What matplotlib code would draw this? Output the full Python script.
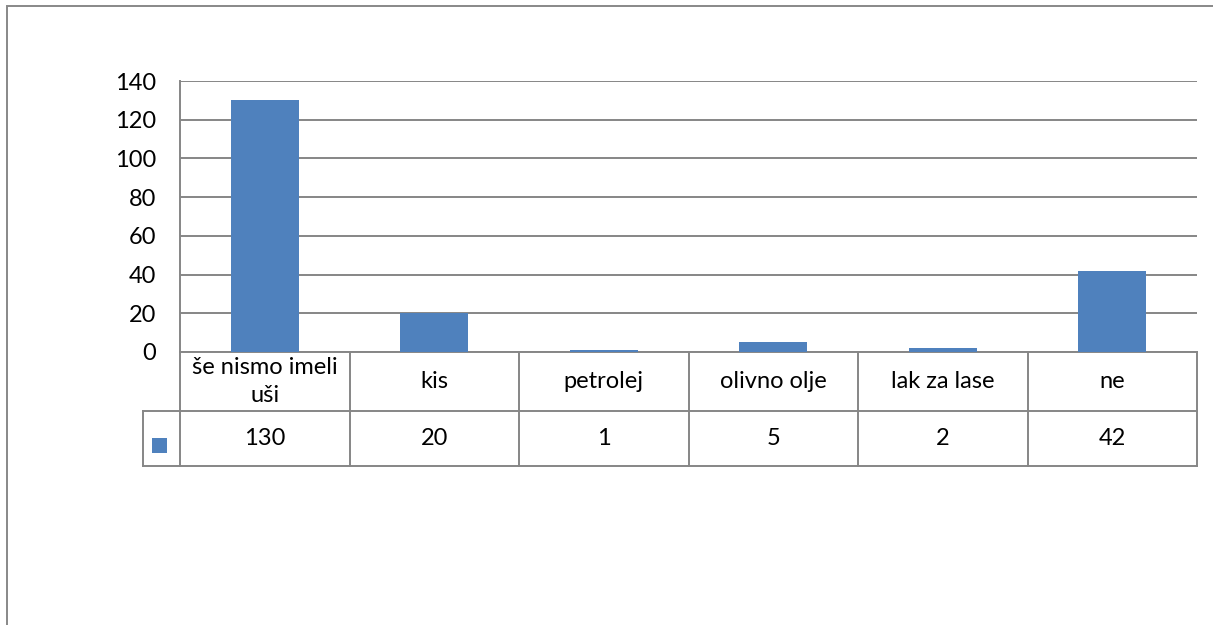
import matplotlib.pyplot as plt
from matplotlib.patches import Rectangle
from matplotlib.lines import Line2D
import matplotlib.transforms as mtransforms

categories = ["še nismo imeli\nuši", "kis", "petrolej", "olivno olje", "lak za lase", "ne"]
values = [130, 20, 1, 5, 2, 42]
yticks = [0, 20, 40, 60, 80, 100, 120, 140]

W, H = 1213, 625
bar_color = "#4F81BD"
line_color = "#868686"
fs = 17

plt.rcParams["font.family"] = ["Lato", "DejaVu Sans"]

fig = plt.figure(figsize=(W / 100, H / 100), dpi=100)
ax = fig.add_axes([180 / W, 1 - 352 / H, (1197 - 180) / W, (352 - 81) / H])

x = range(len(categories))
ax.bar(x, values, width=0.4, color=bar_color, zorder=3)
ax.set_xlim(-0.5, len(categories) - 0.5)
ax.set_ylim(0, 140)
ax.set_yticks(yticks)
ax.set_yticklabels([str(t) for t in yticks], fontsize=fs)
ax.tick_params(axis="y", length=0, pad=17)
ax.set_xticks([])
ax.yaxis.grid(True, color=line_color, linewidth=1.4, zorder=0)
for side in ["top", "right", "bottom"]:
    ax.spines[side].set_visible(False)
ax.spines["left"].set_color(line_color)
ax.spines["left"].set_linewidth(1.4)

# data table under the axes
trans = mtransforms.blended_transform_factory(ax.transData, ax.transAxes)
ah = 352 - 81
r0, r1, r2 = 0, -59 / ah, -114 / ah
n = len(categories)
lw = 1.4


def hline(x0, x1, y):
    ax.add_line(Line2D([x0, x1], [y, y], transform=trans, color=line_color, lw=lw, clip_on=False))


def vline(xx, y0, y1):
    ax.add_line(Line2D([xx, xx], [y0, y1], transform=trans, color=line_color, lw=lw, clip_on=False))


hline(-0.5, n - 0.5, r0)
hline(-0.5, n - 0.5, r1)
hline(-0.5, n - 0.5, r2)
for i in range(n + 1):
    vline(i - 0.5, r0, r2)

# legend key column
key_left = (143 - 180) / (1197 - 180) * n - 0.5
hline(key_left, -0.5, r1)
hline(key_left, -0.5, r2)
vline(key_left, r1, r2)
fig.add_artist(Rectangle((152 / W, 1 - 453 / H), 15 / W, 15 / H, facecolor=bar_color,
                         edgecolor="none", transform=fig.transFigure))

line_gap = 27 / ah
for i, (cat, v) in enumerate(zip(categories, values)):
    parts = cat.split("\n")
    mid = (r0 + r1) / 2
    for k, part in enumerate(parts):
        yy = mid + ((len(parts) - 1) / 2 - k) * line_gap
        ax.text(i, yy, part, transform=trans, ha="center", va="center", fontsize=fs)
    ax.text(i, (r1 + r2) / 2, str(v), transform=trans, ha="center", va="center", fontsize=fs)

# outer chart border
fig.add_artist(Rectangle((6.5 / W, -0.1), 1.2, 1 - 5.5 / H + 0.1, fill=False,
                         edgecolor="#888888", linewidth=1.4, transform=fig.transFigure))

fig.savefig("out.png", dpi=100)
